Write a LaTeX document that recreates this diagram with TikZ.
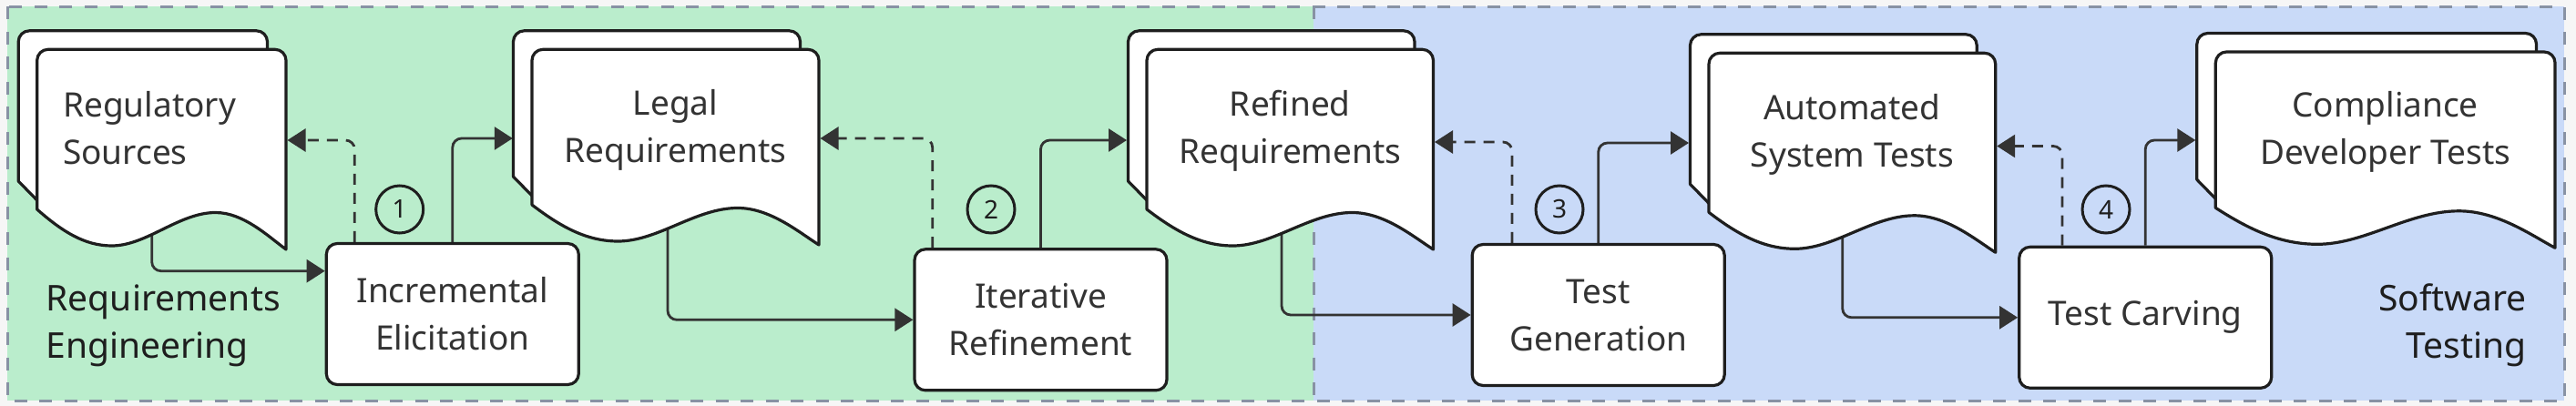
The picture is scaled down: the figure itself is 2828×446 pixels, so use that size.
\documentclass[tikz,border=0pt]{standalone}
\usepackage{fontspec}
\setmainfont{Noto Sans}
\usetikzlibrary{arrows.meta,calc}
\definecolor{bggray}{RGB}{246,246,246}
\definecolor{regGreen}{RGB}{186,237,204}
\definecolor{regBlue}{RGB}{201,218,248}
\definecolor{regBorder}{RGB}{136,146,164}
\definecolor{ink}{RGB}{30,30,30}
\definecolor{txt}{RGB}{51,51,51}
\definecolor{wire}{RGB}{51,51,51}
\pgfdeclarelayer{regions}
\pgfdeclarelayer{wires}
\pgfsetlayers{regions,wires,main}
\tikzset{
  lbl/.style={font=\fontsize{37}{52}\selectfont, text=txt, inner sep=0pt},
  reglbl/.style={font=\fontsize{39}{52}\selectfont, text=ink, inner sep=0pt},
  docline/.style={draw=ink, line width=3.2pt, line join=round},
  procbox/.style={draw=ink, line width=3.2pt, fill=white, rounded corners=12pt,
    minimum width=277pt, minimum height=155pt, inner sep=0pt, align=center,
    font=\fontsize{37}{52}\selectfont, text=txt},
  numcirc/.style={circle, draw=ink, line width=3pt, minimum size=52pt, inner sep=0pt,
    font=\fontsize{28}{28}\selectfont\bfseries, text=ink},
  conn/.style={draw=wire, line width=2.8pt, rounded corners=10pt,
    -{Triangle[length=20pt,width=25pt]}},
  fbconn/.style={conn, dash pattern=on 12pt off 9pt},
  region/.style={draw=regBorder, line width=3pt, dash pattern=on 14pt off 13.5pt}
}
\newcommand{\docshape}[4]{%
  \pgfmathsetmacro{\dsL}{#1}\pgfmathsetmacro{\dsR}{#2}%
  \pgfmathsetmacro{\dsT}{#3}\pgfmathsetmacro{\dsB}{#4}%
  \pgfmathsetmacro{\bsL}{\dsL-20.5}\pgfmathsetmacro{\bsR}{\dsR-20.5}%
  \pgfmathsetmacro{\bsT}{\dsT-20.5}\pgfmathsetmacro{\dsW}{\dsR-\dsL}%
  \draw[docline, fill=white] (\dsL,\dsB-10) -- (\bsL,\dsB-31) -- (\bsL,\bsT+12)
    .. controls (\bsL,\bsT+5.4) and (\bsL+5.4,\bsT) .. (\bsL+12,\bsT)
    -- (\bsR-12,\bsT) .. controls (\bsR-5.4,\bsT) and (\bsR,\bsT+5.4) .. (\bsR,\bsT+12)
    -- (\bsR,\dsT);
  \draw[docline, fill=white] (\dsL,\dsB)
    .. controls (\dsL+0.10*\dsW,\dsB+24) and (\dsL+0.19*\dsW,\dsB+40) .. (\dsL+0.30*\dsW,\dsB+40)
    .. controls (\dsL+0.44*\dsW,\dsB+40) and (\dsL+0.57*\dsW,\dsB+3.5) .. (\dsL+0.717*\dsW,\dsB+3.5)
    .. controls (\dsL+0.83*\dsW,\dsB+3.5) and (\dsL+0.93*\dsW,\dsB+30) .. (\dsR,\dsB+44)
    -- (\dsR,\dsT+12) .. controls (\dsR,\dsT+5.4) and (\dsR-5.4,\dsT) .. (\dsR-12,\dsT)
    -- (\dsL+12,\dsT) .. controls (\dsL+5.4,\dsT) and (\dsL,\dsT+5.4) .. (\dsL,\dsT+12) -- cycle;
}
\begin{document}
\begin{tikzpicture}[x=1pt, y=-1pt]
\useasboundingbox (0,0) rectangle (2828,446);
\begin{pgfonlayer}{regions}
  \fill[bggray] (0,0) rectangle (2828,446);
  \fill[regGreen] (8,7.5) rectangle (1442.3,440);
  \fill[regBlue] (1442.3,7.5) rectangle (2815,440);
  \draw[region] (8,7.5) rectangle (2815,440);
  \draw[region] (1442.3,7.5) -- (1442.3,440);
\end{pgfonlayer}

% region labels (anchor = baseline of the last line)
\node[reglbl, anchor=base west, align=left] (reLabel) at (50.5,393.5) {Requirements\\Engineering};
\node[reglbl, anchor=base east, align=right] (stLabel) at (2774,393.5) {Software\\Testing};

% documents
\docshape{40.7}{314}{54.3}{230}
\docshape{584}{899}{54.3}{225}
\docshape{1259}{1573.5}{54.3}{230}
\docshape{1876}{2190.7}{58.3}{233.3}
\docshape{2432.3}{2805}{57}{228.3}

\node[lbl, anchor=base west, align=left] (d1) at (69,180.3) {Regulatory\\Sources};
\node[lbl, anchor=base, align=center] (d2) at (741.5,179) {Legal\\Requirements};
\node[lbl, anchor=base, align=center] (d3) at (1416.3,180) {Refined\\Requirements};
\node[lbl, anchor=base, align=center] (d4) at (2033.3,183.5) {Automated\\System Tests};
\node[lbl, anchor=base, align=center] (d5) at (2618.6,181) {Compliance\\Developer Tests};

% document anchor points
\coordinate (d1b) at (166.7,250);
\coordinate (d1r) at (315.5,154);
\coordinate (d2in) at (562.8,152);
\coordinate (d2b) at (733,240);
\coordinate (d2r) at (900.5,152);
\coordinate (d3in) at (1237,154);
\coordinate (d3b) at (1407,245);
\coordinate (d3r) at (1575,156);
\coordinate (d4in) at (1854,157);
\coordinate (d4b) at (2022.7,250);
\coordinate (d4r) at (2192.2,160.5);
\coordinate (d5in) at (2410.3,154);

% process boxes
\node[procbox] (inc) at (496.8,345) {Incremental\\Elicitation};
\node[procbox] (itr) at (1142.5,351.3) {Iterative\\Refinement};
\node[procbox] (tg) at (1754.7,346) {Test\\Generation};
\node[procbox] (tc) at (2355.2,348.8) {Test Carving};

% step numbers
\node[numcirc] (n1) at (438.7,230) {1};
\node[numcirc] (n2) at (1088,230) {2};
\node[numcirc] (n3) at (1712,230) {3};
\node[numcirc] (n4) at (2312,230) {4};

\begin{pgfonlayer}{wires}
  \draw[conn] (d1b) |- (inc.west |- 0,297.7);
  \draw[fbconn] (inc.north -| 389.3,0) |- (d1r);
  \draw[conn] (inc.north) |- (d2in);
  \draw[conn] (d2b) |- (itr.west);
  \draw[fbconn] (itr.north -| 1023.7,0) |- (d2r);
  \draw[conn] (itr.north) |- (d3in);
  \draw[conn] (d3b) |- (tg.west);
  \draw[fbconn] (tg.north -| 1660,0) |- (d3r);
  \draw[conn] (tg.north) |- (d4in);
  \draw[conn] (d4b) |- (tc.west);
  \draw[fbconn] (tc.north -| 2264,0) |- (d4r);
  \draw[conn] (tc.north) |- (d5in);
\end{pgfonlayer}
\end{tikzpicture}
\end{document}
